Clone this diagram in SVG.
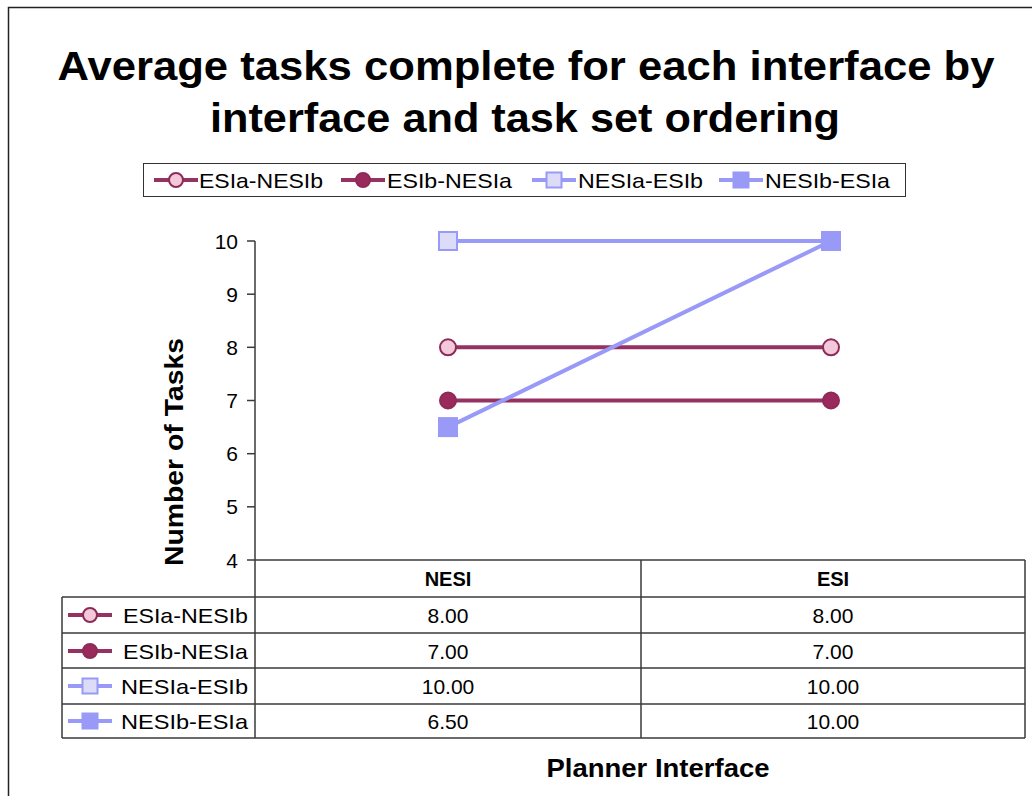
<svg xmlns="http://www.w3.org/2000/svg" width="1032" height="796" viewBox="0 0 1032 796">
  <defs>
    <style>
      .t { font-family: "Liberation Sans", Arial, sans-serif; fill: #000; }
      .title { font-size: 40px; font-weight: bold; text-anchor: middle; }
      .axt { font-size: 25px; font-weight: bold; text-anchor: middle; }
      .tick { font-size: 21px; text-anchor: end; }
      .leg { font-size: 21px; }
      .hd { font-size: 20px; font-weight: bold; text-anchor: middle; }
      .val { font-size: 21px; text-anchor: middle; }
      .grid { stroke: #3a3a3a; stroke-width: 1.5; fill: none; }
      .s1 { stroke: #953262; stroke-width: 4; fill: none; }
      .s2 { stroke: #9999f8; stroke-width: 4; fill: none; }
      .m1 { fill: #f3c8da; stroke: #8c2a58; stroke-width: 2; }
      .m2 { fill: #9b2a5c; stroke: #8c2a58; stroke-width: 2; }
      .m3 { fill: #dcdcf8; stroke: #9999f8; stroke-width: 2; }
      .m4 { fill: #9999f8; stroke: #9999f8; stroke-width: 2; }
    </style>
    <!-- series symbols -->
    <circle id="c" r="8" />
    <rect id="sq" x="-9" y="-9" width="18" height="18" />
    <circle id="cs" r="7" />
    <rect id="sqs" x="-7.5" y="-7.5" width="15" height="15" />
  </defs>

  <!-- chart frame -->
  <rect x="8.5" y="7.5" width="1030" height="800" fill="#fff" stroke="#222" stroke-width="1.5" />

  <!-- title -->
  <g id="title">
    <text class="t title" x="526" y="80" textLength="937" lengthAdjust="spacingAndGlyphs">Average tasks complete for each interface by</text>
    <text class="t title" x="525" y="132" textLength="630" lengthAdjust="spacingAndGlyphs">interface and task set ordering</text>
  </g>

  <!-- legend -->
  <g id="legend">
    <rect x="143.5" y="163.5" width="762" height="33" fill="#fff" stroke="#333" stroke-width="1" />
    <line class="s1" x1="154" y1="180" x2="198" y2="180" />
    <use href="#cs" class="m1" x="176" y="180" />
    <text class="t leg" x="199" y="187.5" textLength="124" lengthAdjust="spacingAndGlyphs">ESIa-NESIb</text>
    <line class="s1" x1="341" y1="180" x2="385" y2="180" />
    <use href="#cs" class="m2" x="363" y="180" />
    <text class="t leg" x="387" y="187.5" textLength="125" lengthAdjust="spacingAndGlyphs">ESIb-NESIa</text>
    <line class="s2" x1="532" y1="180" x2="576" y2="180" />
    <use href="#sqs" class="m3" x="554" y="180" />
    <text class="t leg" x="578" y="187.5" textLength="125" lengthAdjust="spacingAndGlyphs">NESIa-ESIb</text>
    <line class="s2" x1="719" y1="180" x2="763" y2="180" />
    <use href="#sqs" class="m4" x="741" y="180" />
    <text class="t leg" x="765" y="187.5" textLength="125" lengthAdjust="spacingAndGlyphs">NESIb-ESIa</text>
  </g>

  <!-- value axis -->
  <g id="axis">
    <line class="grid" x1="255" y1="241" x2="255" y2="738" />
    <g class="grid">
      <line x1="247" y1="241" x2="255" y2="241" />
      <line x1="247" y1="294.2" x2="255" y2="294.2" />
      <line x1="247" y1="347.3" x2="255" y2="347.3" />
      <line x1="247" y1="400.5" x2="255" y2="400.5" />
      <line x1="247" y1="453.7" x2="255" y2="453.7" />
      <line x1="247" y1="506.8" x2="255" y2="506.8" />
      <line x1="247" y1="560" x2="255" y2="560" />
    </g>
    <text class="t tick" x="238" y="248.5">10</text>
    <text class="t tick" x="238" y="301.7">9</text>
    <text class="t tick" x="238" y="354.8">8</text>
    <text class="t tick" x="238" y="408">7</text>
    <text class="t tick" x="238" y="461.2">6</text>
    <text class="t tick" x="238" y="514.3">5</text>
    <text class="t tick" x="238" y="567.5">4</text>
    <text class="t axt" transform="translate(183,452) rotate(-90)" textLength="228" lengthAdjust="spacingAndGlyphs">Number of Tasks</text>
  </g>

  <!-- series lines -->
  <g id="connectors">
    <line class="s2" x1="448" y1="241" x2="831" y2="241" />
    <line class="s1" x1="448" y1="347.3" x2="831" y2="347.3" />
    <line class="s1" x1="448" y1="400.5" x2="831" y2="400.5" />
    <line class="s2" x1="448" y1="427.1" x2="831" y2="241" />
  </g>

  <!-- data points -->
  <g id="series-ESIa-NESIb">
    <use href="#c" class="m1" x="448" y="347.3" />
    <use href="#c" class="m1" x="831" y="347.3" />
  </g>
  <g id="series-ESIb-NESIa">
    <use href="#c" class="m2" x="448" y="400.5" />
    <use href="#c" class="m2" x="831" y="400.5" />
  </g>
  <g id="series-NESIa-ESIb">
    <use href="#sq" class="m3" x="448" y="241" />
    <use href="#sq" class="m3" x="831" y="241" />
  </g>
  <g id="series-NESIb-ESIa">
    <use href="#sq" class="m4" x="448" y="427.1" />
    <use href="#sq" class="m4" x="831" y="241" />
  </g>

  <!-- data table -->
  <g id="data-table">
    <g class="grid">
      <line x1="255" y1="560" x2="1025" y2="560" />
      <line x1="1025" y1="560" x2="1025" y2="738" />
      <line x1="641" y1="560" x2="641" y2="738" />
      <line x1="62" y1="597" x2="1025" y2="597" />
      <line x1="62" y1="633" x2="1025" y2="633" />
      <line x1="62" y1="668" x2="1025" y2="668" />
      <line x1="62" y1="704" x2="1025" y2="704" />
      <line x1="62" y1="738" x2="1025" y2="738" />
      <line x1="62" y1="597" x2="62" y2="738" />
    </g>
    <text class="t hd" x="448" y="586">NESI</text>
    <text class="t hd" x="833" y="586">ESI</text>

    <line class="s1" x1="68" y1="615" x2="112" y2="615" />
    <use href="#cs" class="m1" x="90" y="615" />
    <text class="t leg" x="123" y="622.5" textLength="125" lengthAdjust="spacingAndGlyphs">ESIa-NESIb</text>
    <text class="t val" x="448" y="622.5">8.00</text>
    <text class="t val" x="833" y="622.5">8.00</text>

    <line class="s1" x1="68" y1="651" x2="112" y2="651" />
    <use href="#cs" class="m2" x="90" y="651" />
    <text class="t leg" x="123" y="658.5" textLength="125" lengthAdjust="spacingAndGlyphs">ESIb-NESIa</text>
    <text class="t val" x="448" y="658.5">7.00</text>
    <text class="t val" x="833" y="658.5">7.00</text>

    <line class="s2" x1="68" y1="686" x2="112" y2="686" />
    <use href="#sqs" class="m3" x="90" y="686" />
    <text class="t leg" x="121" y="693.5" textLength="127" lengthAdjust="spacingAndGlyphs">NESIa-ESIb</text>
    <text class="t val" x="448" y="693.5">10.00</text>
    <text class="t val" x="833" y="693.5">10.00</text>

    <line class="s2" x1="68" y1="721" x2="112" y2="721" />
    <use href="#sqs" class="m4" x="90" y="721" />
    <text class="t leg" x="121" y="728.5" textLength="127" lengthAdjust="spacingAndGlyphs">NESIb-ESIa</text>
    <text class="t val" x="448" y="728.5">6.50</text>
    <text class="t val" x="833" y="728.5">10.00</text>
  </g>

  <!-- category axis title -->
  <text class="t axt" x="658" y="777" textLength="223" lengthAdjust="spacingAndGlyphs">Planner Interface</text>
</svg>
